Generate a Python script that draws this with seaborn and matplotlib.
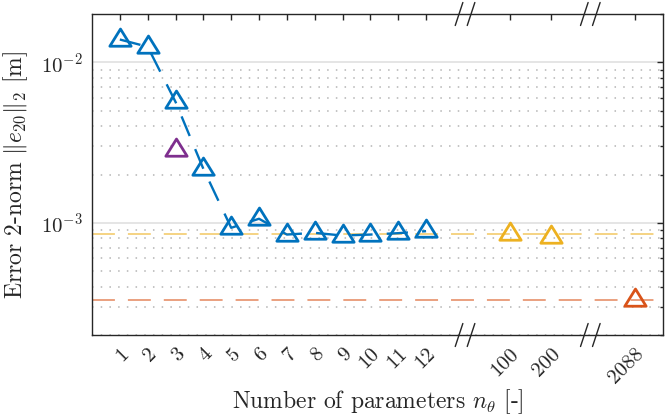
import matplotlib
matplotlib.use("Agg")
import matplotlib.pyplot as plt
from matplotlib.path import Path
from matplotlib.markers import MarkerStyle
from matplotlib.lines import Line2D
import matplotlib.ticker as mticker
import seaborn as sns

# number of parameters and 2-norm errors
n_blue = [1, 2, 3, 4, 5, 6, 7, 8, 9, 10, 11, 12]
err_blue = [0.01387, 0.0125, 0.00567, 0.00217, 0.000931, 0.00106,
            0.000845, 0.000866, 0.000833, 0.000845, 0.000862, 0.000887]
n_purple = [3]
err_purple = [0.00286]
n_yellow = [100, 200]
err_yellow = [0.000854, 0.000813]
n_red = [2088]
err_red = [0.000332]
ref_yellow = 0.000854
ref_red = 0.000332

tick_n = [1, 2, 3, 4, 5, 6, 7, 8, 9, 10, 11, 12, 100, 200, 2088]
tick_labels = [str(n) for n in tick_n]

# broken x axis: the large values get squeezed to the right
far_pos = {100: 15, 200: 16.5, 2088: 19.5}
breaks = [13.4, 17.9]


def xpos(ns):
    return [n if n <= 12 else far_pos[n] for n in ns]


blue = "#0072BD"
purple = "#7E2F8E"
yellow = "#EDB120"
red = "#D95319"

sns.set_style("white")
plt.rcParams["font.family"] = ["serif"]
plt.rcParams["font.serif"] = ["cmr10", "DejaVu Serif"]
plt.rcParams["mathtext.fontset"] = "cm"
plt.rcParams["axes.formatter.use_mathtext"] = True
plt.rcParams["axes.unicode_minus"] = False

tri = MarkerStyle(Path([(0, 1), (-0.93, -0.5), (0.93, -0.5), (0, 1)], closed=True),
                  joinstyle="miter")
mk = dict(marker=tri, markersize=16.5, markerfacecolor="none", markeredgewidth=2.0)

fig = plt.figure(figsize=(6.67, 4.18), dpi=100)
ax = fig.add_axes([92 / 667, 83 / 418, 570.7 / 667, 321 / 418])
ax.set_yscale("log")

ax.axhline(ref_yellow, color=yellow, alpha=0.7, lw=1.1, ls=(0, (15, 8.5)), zorder=2)
ax.axhline(ref_red, color=red, alpha=0.7, lw=1.1, ls=(0, (15, 8.5)), zorder=2)

sns.lineplot(x=xpos(n_blue), y=err_blue, ax=ax, color=blue, lw=1.7,
             linestyle=(0, (9, 6)), markeredgecolor=blue, zorder=3, **mk)
sns.lineplot(x=xpos(n_purple), y=err_purple, ax=ax, color=purple, linestyle="none",
             markeredgecolor=purple, zorder=3, **mk)
sns.lineplot(x=xpos(n_yellow), y=err_yellow, ax=ax, color=yellow, linestyle="none",
             markeredgecolor=yellow, zorder=3, **mk)
sns.lineplot(x=xpos(n_red), y=err_red, ax=ax, color=red, linestyle="none",
             markeredgecolor=red, zorder=3, **mk)

ax.set_xlim(0, 20.5)
ax.set_ylim(2e-4, 2e-2)

ax.set_xticks(xpos(tick_n))
ax.set_xticklabels(tick_labels, rotation=45, ha="right", va="top",
                   rotation_mode="anchor", fontsize=15)
ax.xaxis.set_minor_locator(mticker.NullLocator())
ax.yaxis.set_major_locator(mticker.LogLocator(base=10))
ax.yaxis.set_minor_locator(mticker.LogLocator(base=10, subs=range(2, 10)))
ax.yaxis.set_minor_formatter(mticker.NullFormatter())
ax.tick_params(axis="y", labelsize=15)

ax.tick_params(which="both", direction="in", top=True, right=True,
               color="#262626", width=1.0)
ax.tick_params(which="major", length=4.5, pad=7)
ax.tick_params(which="minor", length=2.5)

ax.grid(axis="y", which="major", color="#dedede", lw=1.1, ls="-")
ax.grid(axis="y", which="minor", color="#b4b4b4", lw=1.1, ls=(0, (1, 4.7)))
ax.grid(axis="x", visible=False)
ax.set_axisbelow(True)

for sp in ax.spines.values():
    sp.set_color("#262626")
    sp.set_linewidth(1.0)

# "//" break marks on top and bottom spines
for xb in breaks:
    xa = xb / 20.5
    for ya in (0, 1):
        for off in (-6, 6):
            cx = xa + off / 570.7
            ax.add_line(Line2D([cx - 3.8 / 570.7, cx + 3.8 / 570.7],
                               [ya - 11.5 / 321, ya + 11.5 / 321],
                               transform=ax.transAxes, color="#262626",
                               lw=1.0, clip_on=False, zorder=5))

ax.set_xlabel(r"Number of parameters $n_\theta$ [-]", fontsize=17)
ax.set_ylabel(r"Error 2-norm $\Vert e_{20}\Vert_2$ [m]", fontsize=17)
ax.xaxis.set_label_coords(0.5, -0.163)
ax.yaxis.set_label_coords(-0.108, 0.5)

fig.savefig("out.png", dpi=100)
